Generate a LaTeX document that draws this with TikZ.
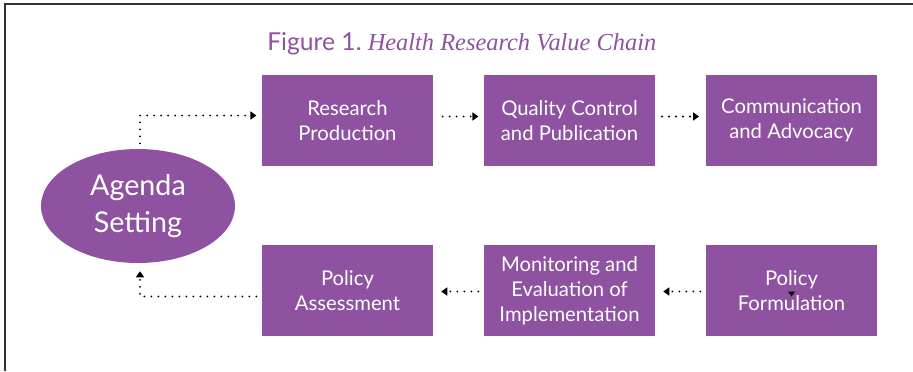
\documentclass[tikz,border=0pt]{standalone}
\usepackage{fontspec}
\setmainfont{Lato}
\newfontfamily\serifit{Liberation Serif}
\usetikzlibrary{arrows.meta,shapes.geometric}
\definecolor{plum}{HTML}{8E52A0}
\begin{document}
\begin{tikzpicture}[x=0.75pt,y=-0.75pt,
  stagebox/.style={fill=plum, text=white, inner sep=0pt, align=center,
    minimum width=128.25pt, minimum height=68.25pt,
    font=\fontsize{15.2}{18.8}\selectfont},
  hub/.style={ellipse, fill=plum, text=white, inner sep=0pt, align=center,
    minimum width=145.5pt, minimum height=85.5pt,
    font=\fontsize{21.5}{28}\selectfont},
  flow/.style={line width=1.6pt, dash pattern=on 0pt off 5.25pt, line cap=round,
    -{Triangle[length=4.5pt,width=6pt]}}]
  \useasboundingbox (0,0) rectangle (913,371);
  % outer frame (top and left edges)
  \draw[line width=1.4pt, black!80] (5,371) -- (5,4) -- (913,4);
  % caption
  \node[anchor=base west, text=plum, inner sep=0pt] (title) at (267,50)
    {\fontsize{18.5}{22}\selectfont Figure 1.\hspace{0.25em}{\serifit\itshape\fontsize{18.3}{22}\selectfont Health Research Value Chain}};
  % stages
  \node[hub] (agenda) at (138,206) {Agenda\\Setting};
  \node[stagebox] (prod) at (347.5,120.5) {Research\\Production};
  \node[stagebox] (qc) at (569.5,120.5) {Quality Control\\and Publication};
  \node[stagebox] (comm) at (791.5,120.5) {Communication\\and Advocacy};
  \node[stagebox] (assess) at (347.5,290.5) {Policy\\Assessment};
  \node[stagebox] (monit) at (569.5,290.5) {Monitoring and\\Evaluation of\\Implementation};
  \node[stagebox] (form) at (791.5,290.5) {Policy\\Formulation};
  % connectors
  \draw[flow, shorten <=4pt, shorten >=4pt]
    ([shift={(2,0)}]agenda.north) |- ([shift={(0,-5)}]prod.west);
  \draw[flow, shorten <=7pt, shorten >=4pt]
    ([shift={(0,-4)}]prod.east) -- ([shift={(0,-4)}]qc.west);
  \draw[flow, shorten <=5pt, shorten >=5pt]
    ([shift={(0,-4)}]qc.east) -- ([shift={(0,-4)}]comm.west);
  \draw[flow, shorten <=4pt, shorten >=6pt]
    ([shift={(0,1)}]form.west) -- ([shift={(0,1)}]monit.east);
  \draw[flow, shorten <=4pt, shorten >=6pt]
    ([shift={(0,1)}]monit.west) -- ([shift={(0,1)}]assess.east);
  \draw[flow, shorten <=4pt, shorten >=6pt]
    ([shift={(0,6)}]assess.west) -| ([shift={(2,0)}]agenda.south);
  % small marker inside the formulation box
  \fill[black] ([shift={(-3.5,1)}]form.center) -- ++(7,0) -- ++(-3.5,5) -- cycle;
\end{tikzpicture}
\end{document}
